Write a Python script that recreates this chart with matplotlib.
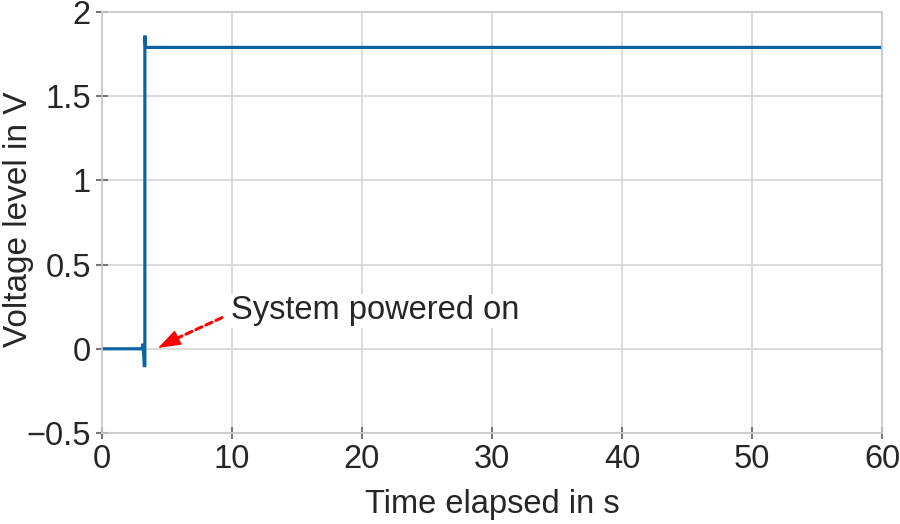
import matplotlib
matplotlib.use("Agg")
import matplotlib.pyplot as plt

plt.rcParams['font.family'] = ['Liberation Sans', 'DejaVu Sans']
plt.rcParams['axes.unicode_minus'] = True

# voltage trace (s, V)
time_s = [0, 3.0, 3.1, 3.15, 3.2, 3.25, 3.3, 3.3, 3.32, 3.35, 3.4, 3.5, 60]
voltage = [0, 0, 0, 0.03, -0.02, -0.10, -0.10, 1.86, 1.84, 1.80, 1.79, 1.79, 1.79]

xticks = [0, 10, 20, 30, 40, 50, 60]
yticks = [-0.5, 0, 0.5, 1, 1.5, 2]

note_text = "System powered on"
arrow_tip = (4.31, 0.005)
arrow_base = (5.7, 0.06)
arrow_tail = (9.23, 0.185)
note_pos = (9.9, 0.225)

text_col = '#262626'
fig = plt.figure(figsize=(9, 5.24), dpi=100)
ax = fig.add_axes([0.1133, 0.1737, 0.98 - 0.1133, 0.977 - 0.1737])

ax.plot(time_s, voltage, color='#0e64a0', lw=2.3, solid_joinstyle='miter')

ax.set_xlim(0, 60)
ax.set_ylim(-0.5, 2)
ax.set_xticks(xticks)
ax.set_yticks(yticks)
ax.set_yticklabels(['\u22120.5', '0', '0.5', '1', '1.5', '2'])
ax.grid(True, color='#d4d4d4', lw=1.2)
ax.set_axisbelow(True)
for s in ax.spines.values():
    s.set_color('#c8c8c8')
    s.set_linewidth(1.2)
ax.tick_params(direction='inout', length=8, width=1.5, color='#777777',
               labelsize=23.5, labelcolor=text_col, pad=4)

ax.set_xlabel("Time elapsed in s", fontsize=23.5, color=text_col, labelpad=10)
ax.set_ylabel("Voltage level in V", fontsize=24, color=text_col)
ax.yaxis.set_label_coords(-0.087, 0.508)

# note text with white box over the grid
ax.text(note_pos[0], note_pos[1], note_text, fontsize=23.5, color=text_col,
        va='center', ha='left',
        bbox=dict(boxstyle='square,pad=0.05', fc='white', ec='none'))
# dashed shaft
ax.annotate('', xy=arrow_base, xytext=arrow_tail,
            arrowprops=dict(arrowstyle='-', color='red', lw=2.2,
                            ls=(0, (2.2, 1.4)), shrinkA=0, shrinkB=0))
# solid head
ax.annotate('', xy=arrow_tip, xytext=arrow_base,
            arrowprops=dict(arrowstyle='-|>,head_length=0.72,head_width=0.25',
                            color='red', lw=1, mutation_scale=20,
                            shrinkA=0, shrinkB=0))

fig.savefig("out.png", dpi=100, facecolor='white')
